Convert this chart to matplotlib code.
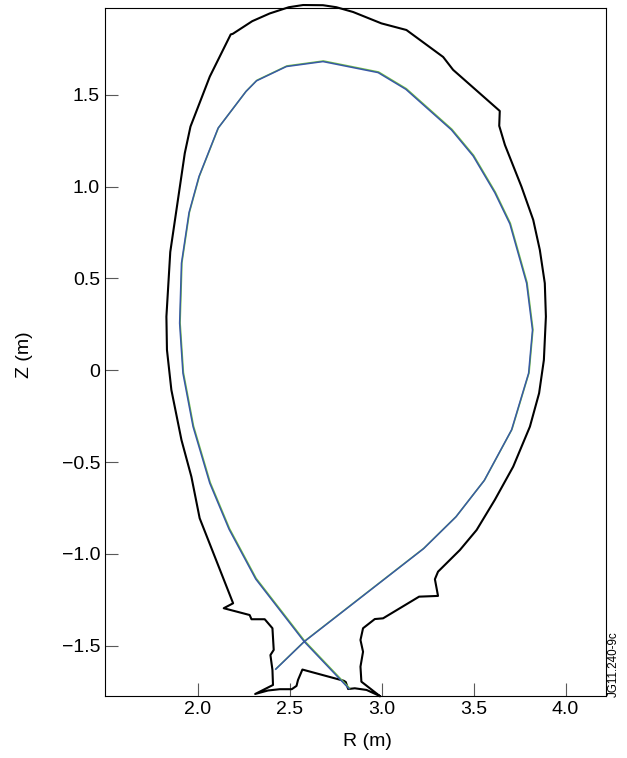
import matplotlib
matplotlib.use("Agg")
import matplotlib.pyplot as plt
from matplotlib.transforms import offset_copy

plt.rcParams.update({
    "font.family": ["Liberation Sans", "DejaVu Sans"],
    "font.size": 14,
})

# First wall / divertor contour (R, Z in m)
wall_r = [2.989, 2.889, 2.884, 2.898, 2.884, 2.898, 2.962, 3.007, 3.203, 3.306,
          3.289, 3.306, 3.425, 3.516, 3.615, 3.715, 3.806, 3.856, 3.882, 3.893,
          3.887, 3.860, 3.824, 3.760, 3.670, 3.639, 3.642, 3.388, 3.334, 3.134,
          2.998, 2.844, 2.753, 2.680, 2.572, 2.494, 2.390, 2.295, 2.189, 2.178,
          2.064, 1.959, 1.928, 1.849, 1.828, 1.831, 1.855, 1.910, 1.964, 2.009,
          2.191, 2.140, 2.281, 2.291, 2.363, 2.405, 2.412, 2.394, 2.405, 2.408,
          2.311, 2.381, 2.445, 2.510, 2.536, 2.544, 2.568, 2.793, 2.804, 2.817,
          2.853, 2.917, 2.989]
wall_z = [-1.774, -1.696, -1.614, -1.533, -1.469, -1.405, -1.355, -1.351, -1.233, -1.229,
          -1.138, -1.097, -0.979, -0.870, -0.706, -0.525, -0.307, -0.125, 0.056, 0.292,
          0.474, 0.655, 0.819, 1.000, 1.227, 1.331, 1.412, 1.636, 1.706, 1.853,
          1.889, 1.951, 1.977, 1.988, 1.989, 1.977, 1.943, 1.901, 1.832, 1.829,
          1.599, 1.327, 1.182, 0.644, 0.292, 0.111, -0.107, -0.380, -0.580, -0.806,
          -1.269, -1.296, -1.333, -1.356, -1.356, -1.405, -1.523, -1.551, -1.632, -1.714,
          -1.763, -1.744, -1.737, -1.737, -1.719, -1.687, -1.630, -1.691, -1.698, -1.736,
          -1.732, -1.741, -1.774]

# Separatrix (plasma boundary with X-point legs)
sep_r = [2.822, 2.578, 2.314, 2.169, 2.064, 1.973, 1.918, 1.900, 1.910, 1.951,
         2.005, 2.109, 2.260, 2.318, 2.481, 2.680, 2.980, 3.131, 3.379, 3.497,
         3.615, 3.697, 3.788, 3.820, 3.799, 3.706, 3.557, 3.403, 3.227, 2.578,
         2.423]
sep_z = [-1.735, -1.478, -1.137, -0.866, -0.615, -0.307, -0.016, 0.256, 0.583, 0.858,
         1.054, 1.318, 1.517, 1.576, 1.654, 1.681, 1.621, 1.530, 1.309, 1.167,
         0.967, 0.797, 0.474, 0.219, -0.016, -0.325, -0.601, -0.799, -0.972, -1.478,
         -1.628]

x_ticks = [2.0, 2.5, 3.0, 3.5, 4.0]
x_labels = ["2.0", "2.5", "3.0", "3.5", "4.0"]
y_ticks = [-1.5, -1.0, -0.5, 0, 0.5, 1.0, 1.5]
y_labels = ["\u22121.5", "\u22121.0", "\u22120.5", "0", "0.5", "1.0", "1.5"]

fig = plt.figure(figsize=(6.27, 7.58), dpi=100)
ax = fig.add_axes([0.1675, 0.0818, 0.799, 0.9077])

ax.plot(wall_r, wall_z, color="black", lw=1.5, clip_on=False, zorder=3)
# second reconstruction almost on top of the first, drawn a hair offset
green_tr = offset_copy(ax.transData, fig=fig, x=0.35, y=0.45, units="points")
ax.plot(sep_r, sep_z, color="#74c043", lw=1.1, zorder=4, transform=green_tr)
ax.plot(sep_r, sep_z, color="#3859a6", lw=1.1, zorder=5)

ax.set_xlim(1.494, 4.22)
ax.set_ylim(-1.774, 1.973)

ax.set_xticks(x_ticks)
ax.set_xticklabels(x_labels)
ax.set_yticks(y_ticks)
ax.set_yticklabels(y_labels)
ax.tick_params(direction="in", length=9.5, width=0.8, color="0.35", pad=3.6,
               top=False, right=False)

for s in ax.spines.values():
    s.set_linewidth(0.8)

ax.set_xlabel("R (m)")
ax.set_ylabel("Z (m)")
ax.xaxis.set_label_coords(0.524, -0.054)
ax.yaxis.set_label_coords(-0.143, 0.496)

fig.text(0.979, 0.0805, "JG11.240-9c", rotation=90, ha="center", va="bottom", fontsize=8.4)

fig.savefig("out.png", dpi=100, facecolor="white")
